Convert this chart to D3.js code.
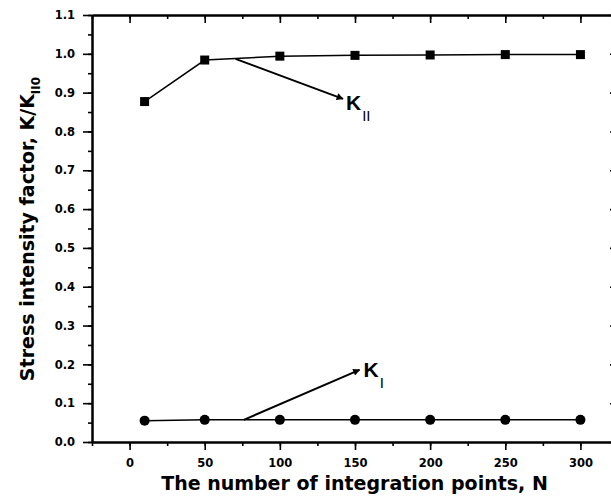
<!DOCTYPE html>
<html>
<head>
<meta charset="utf-8">
<script src="https://cdn.jsdelivr.net/npm/d3@7"></script>
<style>
  body { margin: 0; background: #fff; }
  svg { display: block; font-family: "DejaVu Sans", sans-serif; font-weight: bold; }
</style>
</head>
<body>
<svg id="chart" width="611" height="502"></svg>
<script>
// integration points N and the normalised factors
const nPoints = [10, 50, 100, 150, 200, 250, 300];
const kII = [0.877, 0.984, 0.994, 0.996, 0.997, 0.998, 0.998];
const kI = [0.055, 0.057, 0.057, 0.057, 0.057, 0.057, 0.057];

const xTicks = [0, 50, 100, 150, 200, 250, 300];
const yTicks = [0.0, 0.1, 0.2, 0.3, 0.4, 0.5, 0.6, 0.7, 0.8, 0.9, 1.0, 1.1];

// arrow annotations, [N, K/K] at tail and head
const arrowII = [[70.5, 0.987], [142, 0.884]];
const arrowI = [[76, 0.057], [153, 0.186]];

const svg = d3.select("#chart");
const plotL = 92, plotR = 618, plotT = 15, plotB = 442;

const x = d3.scaleLinear().domain([-25, 325]).range([plotL, plotR]);
const y = d3.scaleLinear().domain([0, 1.1]).range([plotB, plotT]);

const xMinor = d3.range(-25, 326, 25);
const yMinor = d3.range(0, 1.101, 0.05);

function styleAxis(g) {
    g.select(".domain").attr("stroke-width", 2);
    g.selectAll(".tick line").attr("stroke-width", 1.6);
    g.selectAll("text").attr("font-size", 11.5).attr("font-family", "DejaVu Sans").attr("font-weight", "bold").attr("fill", "#000");
}

// bottom axis, labelled
svg.append("g").attr("transform", `translate(0,${plotB})`)
    .call(d3.axisBottom(x).tickValues(xMinor).tickSize(4).tickSizeOuter(0).tickFormat(""))
    .call(styleAxis);
svg.append("g").attr("transform", `translate(0,${plotB})`)
    .call(d3.axisBottom(x).tickValues(xTicks).tickSize(8).tickSizeOuter(0).tickPadding(9).tickFormat(d3.format("d")))
    .call(styleAxis);

// left axis, labelled
svg.append("g").attr("transform", `translate(${plotL},0)`)
    .call(d3.axisLeft(y).tickValues(yMinor).tickSize(4).tickSizeOuter(0).tickFormat(""))
    .call(styleAxis);
svg.append("g").attr("transform", `translate(${plotL},0)`)
    .call(d3.axisLeft(y).tickValues(yTicks).tickSize(9).tickSizeOuter(0).tickPadding(8).tickFormat(d3.format(".1f")))
    .call(styleAxis);

// mirrored top and right axes, ticks pointing inward
svg.append("g").attr("transform", `translate(0,${plotT})`)
    .call(d3.axisBottom(x).tickValues(xMinor).tickSize(4).tickSizeOuter(0).tickFormat(""))
    .call(styleAxis);
svg.append("g").attr("transform", `translate(0,${plotT})`)
    .call(d3.axisBottom(x).tickValues(xTicks).tickSize(8).tickSizeOuter(0).tickFormat(""))
    .call(styleAxis);
svg.append("g").attr("transform", `translate(${plotR},0)`)
    .call(d3.axisLeft(y).tickValues(yMinor).tickSize(4).tickSizeOuter(0).tickFormat(""))
    .call(styleAxis);
svg.append("g").attr("transform", `translate(${plotR},0)`)
    .call(d3.axisLeft(y).tickValues(yTicks).tickSize(8).tickSizeOuter(0).tickFormat(""))
    .call(styleAxis);

// series
const line = d3.line().x(d => x(d[0])).y(d => y(d[1]));
const seriesII = nPoints.map((n, i) => [n, kII[i]]);
const seriesI = nPoints.map((n, i) => [n, kI[i]]);

svg.append("path").datum(seriesII).attr("d", line)
    .attr("fill", "none").attr("stroke", "#000").attr("stroke-width", 1.5);
svg.append("path").datum(seriesI).attr("d", line)
    .attr("fill", "none").attr("stroke", "#000").attr("stroke-width", 1.5);

svg.append("g").selectAll("rect").data(seriesII).enter().append("rect")
    .attr("x", d => x(d[0]) - 4.5).attr("y", d => y(d[1]) - 4.5)
    .attr("width", 9).attr("height", 9).attr("fill", "#000");
svg.append("g").selectAll("circle").data(seriesI).enter().append("circle")
    .attr("cx", d => x(d[0])).attr("cy", d => y(d[1])).attr("r", 5).attr("fill", "#000");

// arrows
svg.append("defs").append("marker")
    .attr("id", "head").attr("markerUnits", "userSpaceOnUse")
    .attr("viewBox", "0 0 10 10").attr("refX", 9).attr("refY", 5)
    .attr("markerWidth", 9).attr("markerHeight", 7).attr("orient", "auto")
    .append("path").attr("d", "M0,0L10,5L0,10Z").attr("fill", "#000");

[arrowII, arrowI].forEach(a => {
    svg.append("line")
        .attr("x1", x(a[0][0])).attr("y1", y(a[0][1]))
        .attr("x2", x(a[1][0])).attr("y2", y(a[1][1]))
        .attr("stroke", "#000").attr("stroke-width", 2)
        .attr("marker-end", "url(#head)");
});

function kLabel(px, py, sub) {
    const t = svg.append("text").attr("x", px).attr("y", py)
        .attr("font-size", 21).attr("font-family", "Liberation Sans, Arial").attr("font-weight", "bold");
    t.append("tspan").text("K");
    t.append("tspan").attr("dy", 11).attr("dx", 1).attr("font-size", 15).attr("font-weight", "normal").text(sub);
}
kLabel(x(arrowII[1][0]) + 3, 110, "II");
kLabel(x(arrowI[1][0]) + 4, 377, "I");

// axis titles
svg.append("text")
    .attr("x", (129 + 580) / 2).attr("y", 490)
    .attr("text-anchor", "middle").attr("font-size", 19)
    .text("The number of integration points, N");

const yt = svg.append("text")
    .attr("transform", "translate(34,229) rotate(-90)")
    .attr("text-anchor", "middle").attr("font-size", 19);
yt.append("tspan").text("Stress intensity factor, K/K");
yt.append("tspan").attr("dy", 6).attr("font-size", 12).text("II0");
</script>
</body>
</html>
